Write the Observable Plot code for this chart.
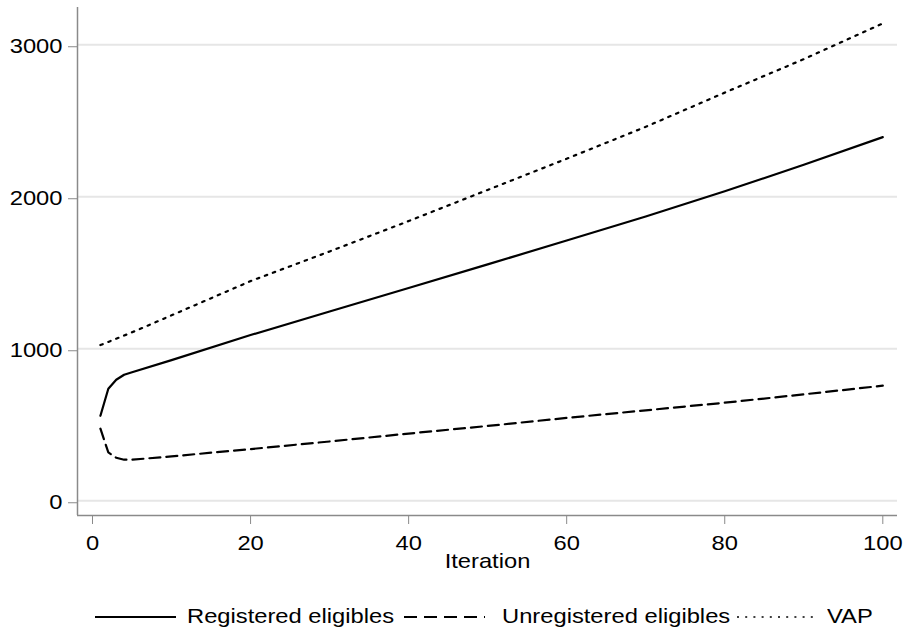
<!DOCTYPE html>
<html><head><meta charset="utf-8">
<script src="https://cdn.jsdelivr.net/npm/d3@7"></script>
<script src="https://cdn.jsdelivr.net/npm/@observablehq/plot@0.6"></script>
<style>
body{margin:0;background:#fff;}
#wrap{position:relative;width:906px;height:633px;font-family:"Liberation Sans",Arial,sans-serif;background:#fff;}
.key{position:absolute;top:612px;}
.lab{position:absolute;font-size:21px;line-height:21px;top:605px;transform:scaleX(1.13);transform-origin:left center;white-space:nowrap;color:#000;}
</style></head><body><div id="wrap"></div>
<script>
// ---- data ----
const iterations   = [1, 2, 3, 4, 5, 10, 20, 30, 40, 50, 60, 70, 80, 90, 100];
const registered   = [559, 737, 796, 829, 845, 925, 1090, 1245, 1400, 1555, 1712, 1870, 2036, 2210, 2392];
const unregistered = [474, 318, 283, 270, 270, 292, 340, 390, 442, 492, 545, 595, 645, 700, 757];
const vap          = [1024, 1045, 1066, 1087, 1108, 1220, 1445, 1640, 1840, 2045, 2250, 2460, 2685, 2905, 3140];
const seriesNames  = ["Registered eligibles", "Unregistered eligibles", "VAP"];
const xTicks = [0, 20, 40, 60, 80, 100];
const yTicks = [0, 1000, 2000, 3000];
const xLabel = "Iteration";

// ---- styles ----
const dashes = {"Registered eligibles": null, "Unregistered eligibles": "11,6", "VAP": "2.5,6"};
const xDomain = [-1.9, 101.86];
const yDomain = [-97, 3245];
const axisGray = "#8a8a8a";
const FS = 21, SX = 1.13;

const rows = iterations.flatMap((x, i) => [
  {x, y: registered[i], s: seriesNames[0]},
  {x, y: unregistered[i], s: seriesNames[1]},
  {x, y: vap[i], s: seriesNames[2]}
]);

const chart = Plot.plot({
  width: 906, height: 590,
  marginLeft: 77, marginRight: 9, marginTop: 7, marginBottom: 75,
  style: {fontFamily: '"Liberation Sans", Arial, sans-serif', fontSize: FS + "px", background: "white", overflow: "visible"},
  x: {domain: xDomain, axis: null},
  y: {domain: yDomain, axis: null},
  marks: [
    Plot.gridY(yTicks, {stroke: "#e6e6e6", strokeOpacity: 1, strokeWidth: 2}),
    Plot.ruleX([xDomain[0]], {stroke: axisGray, strokeWidth: 1.5}),
    Plot.ruleY([yDomain[0]], {stroke: axisGray, strokeWidth: 1.5}),
    Plot.axisY(yTicks, {tickSize: 9, tickPadding: 6, fontSize: FS, stroke: axisGray, fill: "black", label: null, dy: 2, tickFormat: d => String(d)}),
    Plot.axisX(xTicks, {tickSize: 9, tickPadding: 11, fontSize: FS, stroke: axisGray, fill: "black", label: null, tickFormat: d => String(d)}),
    Plot.text([xLabel], {frameAnchor: "bottom", dy: 52, fontSize: FS, fill: "black"}),
    ...seriesNames.map(s => Plot.line(rows.filter(d => d.s === s), {
      x: "x", y: "y", stroke: "black", strokeWidth: 2.2,
      strokeDasharray: dashes[s], strokeLinejoin: "round"
    }))
  ]
});

const wrap = document.getElementById("wrap");
wrap.appendChild(chart);

// widen text horizontally like the reference rendering (scale about each text's anchor)
chart.querySelectorAll("text").forEach(t => {
  const b = t.getBBox();
  const anchor = getComputedStyle(t).textAnchor;
  const ax = anchor === "end" ? b.x + b.width : anchor === "middle" ? b.x + b.width / 2 : b.x;
  const tr = t.getAttribute("transform") || "";
  t.setAttribute("transform", `${tr} translate(${ax},0) scale(${SX},1) translate(${-ax},0)`.trim());
});

// legend below the plot
const keyLeft = [95, 404, 737];
const labLeft = [187, 502, 827];
seriesNames.forEach((s, i) => {
  const svg = d3.create("svg").attr("class", "key").attr("width", 82).attr("height", 10)
    .style("left", keyLeft[i] + "px");
  svg.append("line").attr("x1", 0).attr("x2", 81).attr("y1", 5).attr("y2", 5)
    .attr("stroke", "black").attr("stroke-width", i === 2 ? 1.6 : 2)
    .attr("stroke-dasharray", i === 1 ? "13,7" : i === 2 ? "2,6.2" : null);
  wrap.appendChild(svg.node());
  const lab = document.createElement("span");
  lab.className = "lab"; lab.textContent = s; lab.style.left = labLeft[i] + "px";
  wrap.appendChild(lab);
});
</script></body></html>
